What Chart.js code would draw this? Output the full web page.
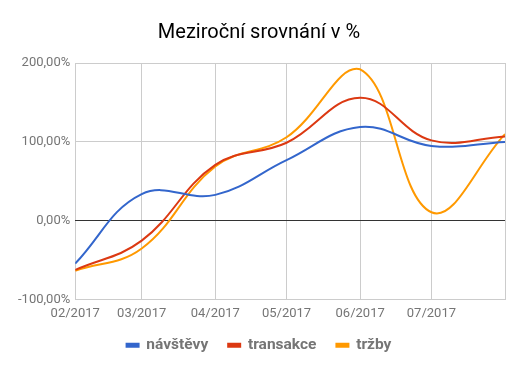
<!DOCTYPE html>
<html>
<head>
<meta charset="utf-8">
<script src="https://cdn.jsdelivr.net/npm/chart.js@4"></script>
<style>
  html, body { margin: 0; padding: 0; background: #fff; }
  #wrap { width: 524px; height: 372px; position: relative; }
</style>
</head>
<body>
<div id="wrap"><canvas id="chart"></canvas></div>
<script>
// data
const months = ['2017-02-01', '2017-03-01', '2017-04-01', '2017-05-01', '2017-06-01', '2017-07-01', '2017-08-01'];
const monthLabels = ['02/2017', '03/2017', '04/2017', '05/2017', '06/2017', '07/2017', ''];
const navstevy = [-54, 34, 33, 77, 119, 95, 100];
const transakce = [-62, -25, 71, 99, 156, 102, 107];
const trzby = [-63, -35, 69, 106, 192, 11, 110];

// x osa je casova - dny od prvniho mesice
const start = Date.parse(months[0]);
const days = months.map(m => (Date.parse(m) - start) / 86400000);
const toPoints = vals => vals.map((v, i) => ({ x: days[i], y: v }));

const gray = '#757575';
const font = 'Roboto';

const series = [
    { label: 'návštěvy', data: navstevy, color: '#3366cc' },
    { label: 'transakce', data: transakce, color: '#dc3912' },
    { label: 'tržby', data: trzby, color: '#ff9900' }
];

new Chart(document.getElementById('chart'), {
    type: 'line',
    data: {
        datasets: series.map(s => ({
            label: s.label,
            data: toPoints(s.data),
            borderColor: s.color,
            backgroundColor: s.color,
            borderWidth: 2,
            pointRadius: 0,
            tension: 0.4,
            fill: false
        }))
    },
    options: {
        responsive: true,
        maintainAspectRatio: false,
        animation: false,
        layout: { padding: { left: 13, right: 19, top: 10, bottom: 9 } },
        plugins: {
            title: {
                display: true,
                text: 'Meziroční srovnání v %',
                color: '#000',
                font: { family: font, size: 20, weight: 'normal' },
                padding: { top: 11, bottom: 18 }
            },
            legend: {
                position: 'bottom',
                labels: {
                    color: gray,
                    font: { family: font, size: 15.5, weight: 'bold' },
                    boxWidth: 12,
                    boxHeight: 3,
                    padding: 20
                }
            },
            tooltip: { enabled: false }
        },
        scales: {
            x: {
                type: 'linear',
                min: days[0],
                max: days[days.length - 1],
                afterBuildTicks: axis => { axis.ticks = days.map(d => ({ value: d })); },
                // popisky blize k legende
                afterFit: axis => { axis.height -= 10; },
                ticks: {
                    color: gray,
                    font: { family: font, size: 13 },
                    maxRotation: 0,
                    autoSkip: false,
                    padding: 6,
                    callback: (v, i) => monthLabels[i]
                },
                grid: { color: '#cccccc', drawTicks: false },
                border: { display: false }
            },
            y: {
                min: -100,
                max: 200,
                ticks: {
                    stepSize: 100,
                    color: gray,
                    font: { family: font, size: 13 },
                    padding: 5,
                    callback: v => v.toFixed(2).replace('.', ',') + '%'
                },
                grid: {
                    color: ctx => ctx.tick && ctx.tick.value === 0 ? '#333333' : '#cccccc',
                    drawTicks: false
                },
                border: { display: false }
            }
        }
    }
});
</script>
</body>
</html>
